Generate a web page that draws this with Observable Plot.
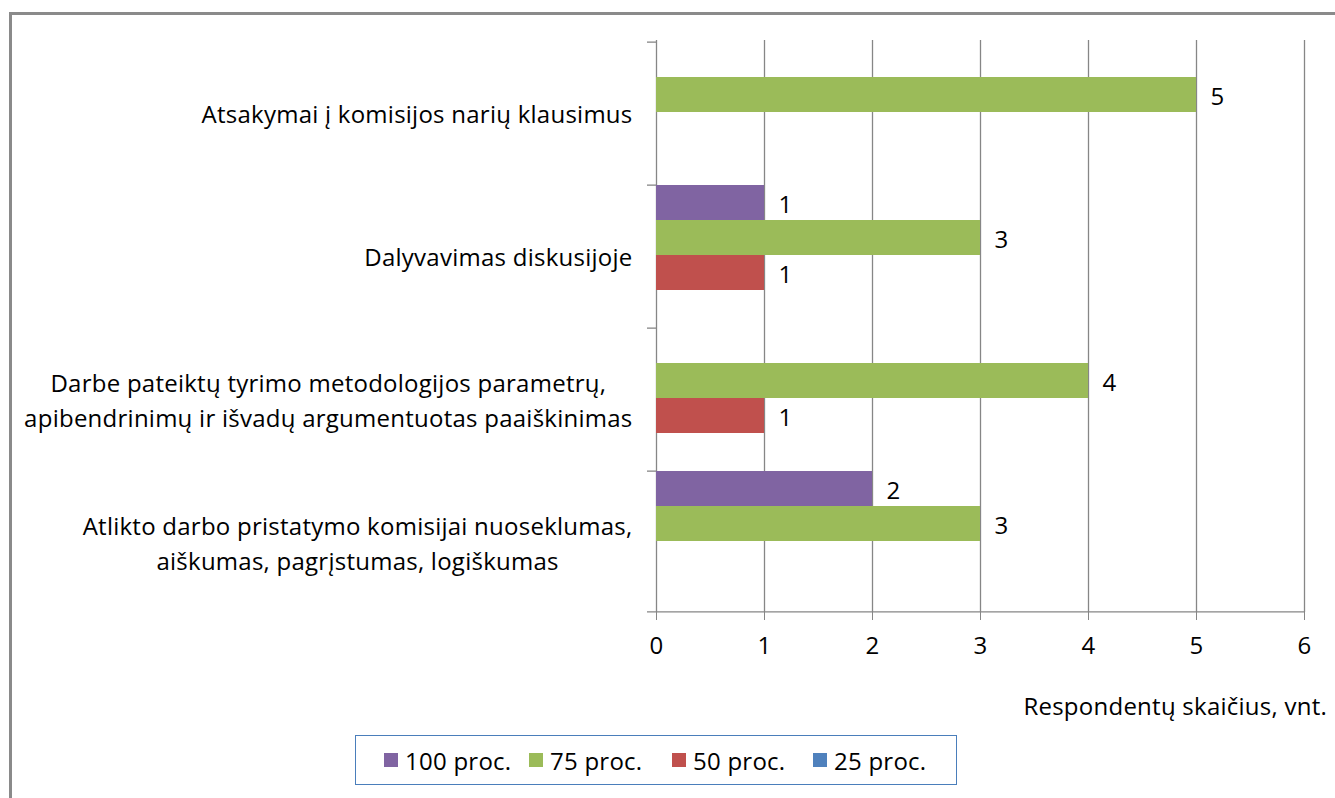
<!DOCTYPE html>
<html><head><meta charset="utf-8">
<script src="https://cdn.jsdelivr.net/npm/d3@7"></script>
<script src="https://cdn.jsdelivr.net/npm/@observablehq/plot@0.6"></script>
<style>
body{margin:0;background:#fff;font-family:"Open Sans",sans-serif;letter-spacing:0.25px;}
#wrap{position:relative;width:1335px;height:798px;overflow:hidden;background:#fff;}
#frame{position:absolute;left:9px;top:12px;width:2000px;height:2000px;border-left:3px solid #8a8a8a;border-top:3px solid #8a8a8a;}
#chart{position:absolute;left:0;top:0;}
#xtitle{position:absolute;right:8px;top:694px;font-size:24px;line-height:1;color:#000;white-space:nowrap;}
#legend{position:absolute;left:355px;top:735px;width:600px;height:48px;border:1px solid #4a7ebb;box-sizing:content-box;}
.li{position:absolute;top:0;height:48px;display:flex;align-items:center;font-size:24px;color:#000;white-space:nowrap;}
.sw{width:14px;height:14px;margin-right:7px;}
</style></head>
<body><div id="wrap"><div id="frame"></div><div id="chart"></div><div id="xtitle"></div><div id="legend"></div></div>
<script>
const categories = [
  "Atsakymai į komisijos narių klausimus",
  "Dalyvavimas diskusijoje",
  "Darbe pateiktų tyrimo metodologijos parametrų,\napibendrinimų ir išvadų argumentuotas paaiškinimas",
  "Atlikto darbo pristatymo komisijai nuoseklumas,\naiškumas, pagrįstumas, logiškumas"
];
const seriesNames = ["100 proc.", "75 proc.", "50 proc.", "25 proc."];
const seriesColors = ["#8064A2", "#9BBB59", "#C0504D", "#4F81BD"];
const v100 = [0, 1, 0, 2];
const v75 = [5, 3, 4, 3];
const v50 = [0, 1, 1, 0];
const v25 = [0, 0, 0, 0];
const xTicks = [0, 1, 2, 3, 4, 5, 6];
const xTitle = "Respondentų skaičius, vnt.";

const seriesValues = [v100, v75, v50, v25];
const rows = [];
categories.forEach((c, i) => seriesNames.forEach((s, j) => {
  const v = seriesValues[j][i];
  if (v > 0) rows.push({category: c, series: s, value: v});
}));

const W = 1335, H = 680, mL = 656, mR = 31, mT = 40, mB = 68;
const bw = (H - mT - mB) / categories.length / seriesNames.length;
const xUnit = (W - mL - mR) / (xTicks[xTicks.length - 1] - xTicks[0]);
const tickLen = 9;
const gray = "#868686";
const font = "'Open Sans', sans-serif";
const fs = 24;

const plot = Plot.plot({
  width: W, height: H, marginLeft: mL, marginRight: mR, marginTop: mT, marginBottom: mB,
  style: {fontFamily: font, fontSize: fs + "px", letterSpacing: "0.25px", color: "#000", background: "transparent", overflow: "visible"},
  x: {domain: [xTicks[0], xTicks[xTicks.length - 1]], label: null},
  y: {domain: seriesNames, padding: 0, axis: null},
  fy: {domain: categories, padding: 0, label: null},
  color: {domain: seriesNames, range: seriesColors},
  marks: [
    Plot.gridX(xTicks.slice(1), {stroke: gray, strokeOpacity: 1, strokeWidth: 1.3}),
    Plot.ruleX([0], {stroke: gray, strokeWidth: 1.3}),
    Plot.ruleY(categories, {fy: d => d, y: () => seriesNames[0], dy: -bw / 2, x1: -tickLen / xUnit, x2: 0, stroke: gray, strokeWidth: 1.3}),
    Plot.ruleY([categories[categories.length - 1]], {fy: d => d, y: () => seriesNames[seriesNames.length - 1], dy: bw / 2, x1: -tickLen / xUnit, x2: xTicks[xTicks.length - 1], stroke: gray, strokeWidth: 1.3}),
    Plot.barX(rows, {x: "value", y: "series", fy: "category", fill: "series"}),
    Plot.text(rows, {x: "value", y: "series", fy: "category", text: d => String(d.value), textAnchor: "start", dx: 14, dy: 2, fill: "#000", fontSize: fs}),
    Plot.axisX({ticks: xTicks, tickFormat: d3.format("d"), tickSize: 8, tickPadding: 16, stroke: gray, strokeOpacity: 1, fill: "#000", fontSize: fs, label: null}),
    Plot.axisFy({anchor: "left", tickSize: 0, tickPadding: 24, lineHeight: 1.45, fill: "#000", fontSize: fs, label: null})
  ]
});
document.getElementById("chart").appendChild(plot);

// center the lines of each multi-line category label (right edge kept)
plot.querySelectorAll('g[aria-label="fy-axis tick label"] text').forEach(t => {
  const w = t.getBBox().width;
  t.setAttribute("text-anchor", "middle");
  t.setAttribute("transform", (t.getAttribute("transform") || "") + ` translate(${-w / 2},0)`);
});

document.getElementById("xtitle").textContent = xTitle;
const lg = document.getElementById("legend");
const legendLefts = [28, 173, 316, 457];
seriesNames.forEach((s, i) => {
  const it = document.createElement("div");
  it.className = "li";
  it.style.left = legendLefts[i] + "px";
  const sw = document.createElement("div");
  sw.className = "sw";
  sw.style.background = seriesColors[i];
  const tx = document.createElement("span");
  tx.textContent = s;
  it.appendChild(sw); it.appendChild(tx);
  lg.appendChild(it);
});
</script></body></html>
